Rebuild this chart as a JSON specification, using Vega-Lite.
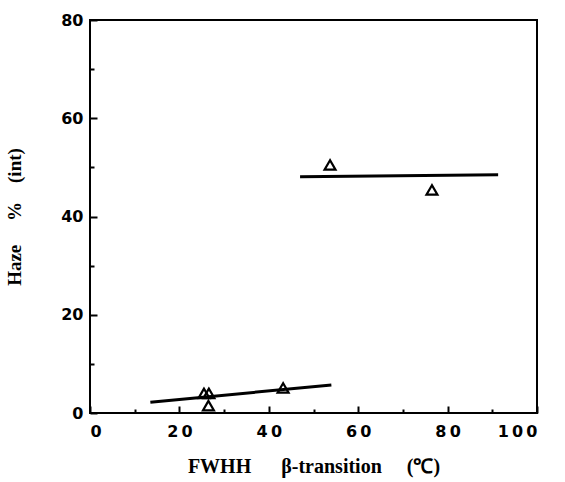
{
  "$schema": "https://vega.github.io/schema/vega-lite/v6.json",
  "width": 447,
  "height": 393,
  "autosize": "none",
  "padding": {"left": 90, "top": 20, "right": 28, "bottom": 69},
  "background": "white",
  "config": {
    "view": {"stroke": "black", "strokeWidth": 2},
    "axis": {
      "domain": false,
      "grid": false,
      "tickColor": "black",
      "tickWidth": 2,
      "labelFont": "DejaVu Sans",
      "labelFontWeight": "bold",
      "labelFontSize": 16,
      "labelColor": "black",
      "titleFont": "Liberation Serif",
      "titleFontWeight": "bold",
      "titleFontSize": 19,
      "titleColor": "black"
    }
  },
  "datasets": {
    "points": [
      {"fwhh": 25.5, "haze": 4.0},
      {"fwhh": 26.6, "haze": 4.0},
      {"fwhh": 26.5, "haze": 1.5},
      {"fwhh": 43.2, "haze": 5.1},
      {"fwhh": 53.7, "haze": 50.5},
      {"fwhh": 76.5, "haze": 45.4}
    ],
    "lines": [
      {"series": "low", "fwhh": 13.5, "haze": 2.2},
      {"series": "low", "fwhh": 54.0, "haze": 5.7},
      {"series": "high", "fwhh": 47.0, "haze": 48.1},
      {"series": "high", "fwhh": 91.3, "haze": 48.5}
    ]
  },
  "layer": [
    {
      "data": {"name": "lines"},
      "mark": {"type": "line", "color": "black", "strokeWidth": 3},
      "encoding": {
        "x": {
          "field": "fwhh", "type": "quantitative",
          "scale": {"domain": [0, 100], "nice": false},
          "axis": {
            "title": "FWHH\u00a0\u00a0\u00a0\u00a0\u00a0\u00a0β-transition\u00a0\u00a0\u00a0\u00a0\u00a0(℃)",
            "titleFontSize": 20,
            "values": [0, 10, 20, 30, 40, 50, 60, 70, 80, 90, 100],
            "labelExpr": "datum.value % 20 == 0 ? join(split(datum.label, ''), '\u2009') : ''",
            "tickSize": {"condition": {"test": "datum.value % 20 == 0", "value": -7}, "value": -4},
            "labelPadding": 17,
            "titlePadding": 17
          }
        },
        "y": {
          "field": "haze", "type": "quantitative",
          "scale": {"domain": [0, 80], "nice": false},
          "axis": {
            "title": "Haze\u00a0\u00a0\u00a0\u00a0\u00a0%\u00a0\u00a0\u00a0\u00a0(int)",
            "values": [0, 10, 20, 30, 40, 50, 60, 70, 80],
            "labelExpr": "datum.value % 20 == 0 ? datum.label : ''",
            "tickSize": {"condition": {"test": "datum.value % 20 == 0", "value": -7}, "value": -4},
            "labelPadding": 14,
            "titlePadding": 36
          }
        },
        "detail": {"field": "series"}
      }
    },
    {
      "data": {"name": "points"},
      "mark": {"type": "point", "shape": "triangle-up", "filled": false, "color": "black", "strokeWidth": 2.2, "size": 120, "opacity": 1},
      "encoding": {
        "x": {"field": "fwhh", "type": "quantitative"},
        "y": {"field": "haze", "type": "quantitative"}
      }
    }
  ]
}
